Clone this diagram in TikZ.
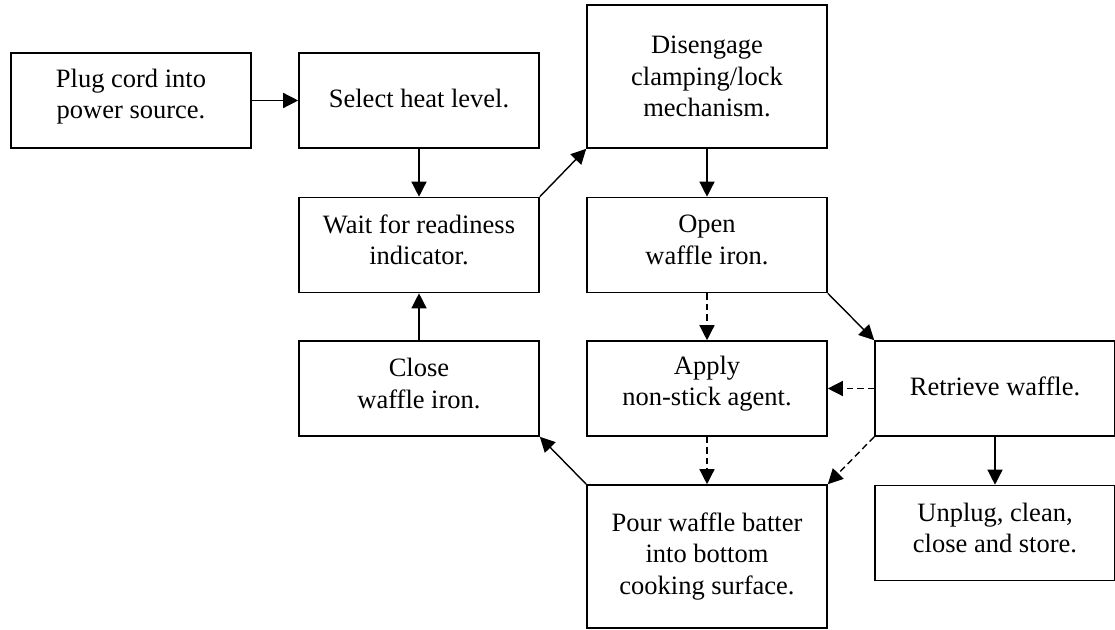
\documentclass[tikz,border=0pt]{standalone}
\usepackage{fontspec}
\setmainfont{Liberation Serif}
\usetikzlibrary{arrows.meta}
\begin{document}
\begin{tikzpicture}[x=1pt,y=-1pt,
  box/.style={draw,line width=1.6pt,minimum width=240pt,inner sep=0pt},
  short/.style={box,minimum height=95pt},
  tall/.style={box,minimum height=143pt},
  txt/.style={align=center,inner sep=0pt,font=\fontsize{26.5}{31.5}\selectfont},
  flow/.style={line width=1.4pt,-{Triangle[length=15pt,width=15pt]}},
  alt/.style={flow,dash pattern=on 6.5pt off 4pt}]
\useasboundingbox (0,0) rectangle (1115,629);

% step boxes
\node[short] (plug)     at (131,100.5) {};
\node[short] (heat)     at (419,100.5) {};
\node[tall]  (unlock)   at (707,76.5)  {};
\node[short] (wait)     at (419,245)   {};
\node[short] (open)     at (707,245)   {};
\node[short] (close)    at (419,388.5) {};
\node[short] (apply)    at (707,388.5) {};
\node[short] (retrieve) at (995,388.5) {};
\node[tall]  (pour)     at (707,556.5) {};
\node[short] (store)    at (995,533)   {};

% box texts
\node[txt] (tplug)     at ([yshift=4pt]plug.center)     {Plug cord into\\power source.};
\node[txt] (theat)     at ([yshift=2pt]heat.center)     {Select heat level.};
\node[txt] (tunlock)   at (unlock.center)               {Disengage\\clamping/lock\\mechanism.};
\node[txt] (twait)     at ([yshift=5pt]wait.center)     {Wait for readiness\\indicator.};
\node[txt] (topen)     at ([yshift=5pt]open.center)     {Open\\waffle iron.};
\node[txt] (tclose)    at ([yshift=5pt]close.center)    {Close\\waffle iron.};
\node[txt] (tapply)    at ([yshift=5pt]apply.center)    {Apply\\non-stick agent.};
\node[txt] (tretrieve) at ([yshift=2pt]retrieve.center) {Retrieve waffle.};
\node[txt] (tpour)     at (pour.center)                 {Pour waffle batter\\into bottom\\cooking surface.};
\node[txt] (tstore)    at ([yshift=5pt]store.center)    {Unplug, clean,\\close and store.};

% main sequence
\draw[flow] (plug.east) -- (heat.west);
\draw[flow] (heat.south) -- (wait.north);
\draw[flow] (wait.north east) -- (unlock.south west);
\draw[flow] (unlock.south) -- (open.north);
\draw[flow] (open.south east) -- (retrieve.north west);
\draw[flow] (retrieve.south) -- (store.north);
\draw[flow] (pour.north west) -- (close.south east);
\draw[flow] (close.north) -- (wait.south);

% optional steps
\draw[alt] (open.south) -- (apply.north);
\draw[alt] (apply.south) -- (pour.north);
\draw[alt] (retrieve.west) -- (apply.east);
\draw[alt] (retrieve.south west) -- (pour.north east);
\end{tikzpicture}
\end{document}
